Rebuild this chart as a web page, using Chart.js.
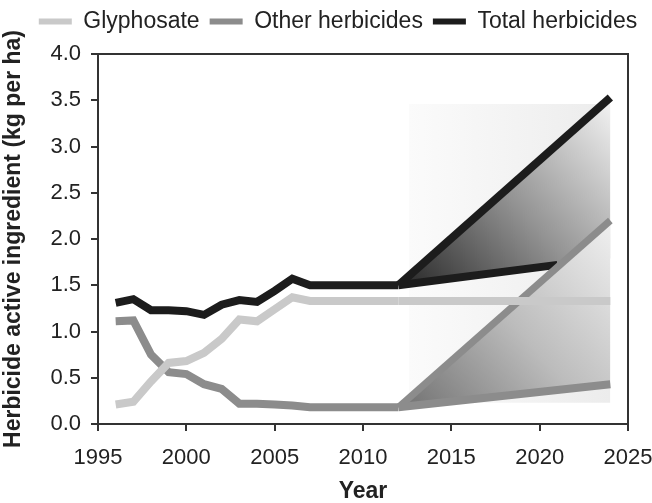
<!DOCTYPE html>
<html>
<head>
<meta charset="utf-8">
<script src="https://cdn.jsdelivr.net/npm/chart.js@4.4.1/dist/chart.umd.min.js"></script>
<style>
  html, body { margin: 0; padding: 0; background: #fff; }
  #wrap { width: 652px; height: 503px; }
</style>
</head>
<body>
<div id="wrap"><canvas id="chart"></canvas></div>
<script>
/* Herbicide use per hectare, measured 1996-2012 and projected to 2024 */

const histYears = [1996, 1997, 1998, 1999, 2000, 2001, 2002, 2003, 2004, 2005, 2006, 2007, 2008, 2009, 2010, 2011, 2012];
const glyphosate = [0.21, 0.24, 0.46, 0.66, 0.68, 0.77, 0.92, 1.13, 1.11, 1.24, 1.37, 1.33, 1.33, 1.33, 1.33, 1.33, 1.33];
const otherHerbicides = [1.11, 1.12, 0.75, 0.56, 0.54, 0.43, 0.38, 0.22, 0.22, 0.21, 0.20, 0.18, 0.18, 0.18, 0.18, 0.18, 0.18];
const totalHerbicides = [1.31, 1.35, 1.23, 1.23, 1.22, 1.18, 1.29, 1.34, 1.32, 1.44, 1.57, 1.50, 1.50, 1.50, 1.50, 1.50, 1.50];

// projections
const projYears = [2012, 2024];
const glyphosateProj = [1.33, 1.33];
const otherHigh = [0.18, 2.20];
const otherLow = [0.18, 0.43];
const totalHigh = [1.50, 3.53];
// low total scenario: visible until it runs under the other-herbicides fan
const totalLowYears = [2012, 2021];
const totalLow = [1.50, 1.72];
// where that lower edge sits once hidden (bottom of the total fan)
const totalLowEdge = [1.50, 1.79];

// faint backdrop behind the projections
const shadeYears = [2012.6, 2024];
const shadeTop = [3.46, 3.46];
const shadeBottom = [0.23, 0.23];

const xTicks = [1995, 2000, 2005, 2010, 2015, 2020, 2025];
const yTicks = [0, 0.5, 1.0, 1.5, 2.0, 2.5, 3.0, 3.5, 4.0];

const COLORS = {
    glyphosate: '#c9c9c9',
    other: '#8c8c8c',
    total: '#1c1c1c',
    axis: '#333333',
    text: '#222222',
};

const LEGEND_SHIFT = 24;

Chart.defaults.font.family = "'Liberation Sans', Arial, Helvetica, sans-serif";
Chart.defaults.color = COLORS.text;

const pts = (xs, ys) => xs.map((x, i) => ({ x, y: ys[i] }));

function line(label, data, color, width, order) {
    return {
        label,
        data,
        borderColor: color,
        backgroundColor: color,
        borderWidth: width,
        pointRadius: 0,
        pointHoverRadius: 0,
        fill: false,
        tension: 0,
        order,
        borderCapStyle: 'butt',
        borderJoinStyle: 'miter',
    };
}

// diagonal gradient over a projection fan, dark where it starts and pale at its far end
function fanGradient(xs, lo, hi, stops) {
    return (ctx) => {
        const { chart } = ctx;
        const { chartArea, scales } = chart;
        if (!chartArea) return null;
        const x0 = scales.x.getPixelForValue(xs[0]);
        const y0 = scales.y.getPixelForValue(lo[0]);
        const x1 = scales.x.getPixelForValue(xs[xs.length - 1]);
        const y1 = scales.y.getPixelForValue(hi[hi.length - 1]);
        const g = chart.ctx.createLinearGradient(x0, y0, x1, y1);
        stops.forEach(([t, c]) => g.addColorStop(t, c));
        return g;
    };
}

function shadeGradient(ctx) {
    const { chart } = ctx;
    const { chartArea, scales } = chart;
    if (!chartArea) return null;
    const x0 = scales.x.getPixelForValue(shadeYears[0]);
    const x1 = scales.x.getPixelForValue(shadeYears[shadeYears.length - 1]);
    const g = chart.ctx.createLinearGradient(x0, 0, x1, 0);
    g.addColorStop(0, '#fbfbfb');
    g.addColorStop(1, '#ececec');
    return g;
}

function band(data, target, bg, order) {
    return {
        label: '',
        data,
        borderWidth: 0,
        borderColor: 'rgba(0,0,0,0)',
        backgroundColor: bg,
        pointRadius: 0,
        pointHoverRadius: 0,
        fill: target === null ? false : { target },
        tension: 0,
        order,
    };
}

const datasets = [
    line('Glyphosate', pts(histYears, glyphosate), COLORS.glyphosate, 8, 1),            // 0
    line('', pts(projYears, glyphosateProj), COLORS.glyphosate, 8, 1),                  // 1
    line('Other herbicides', pts(histYears, otherHerbicides), COLORS.other, 8, 2),      // 2
    line('', pts(projYears, otherHigh), COLORS.other, 7, 2),                            // 3
    line('', pts(projYears, otherLow), COLORS.other, 8, 2),                             // 4
    band(pts(projYears, otherHigh), 6,
        fanGradient(projYears, otherLow, otherHigh, [[0, '#707070'], [0.5, '#bcbcbc'], [1, '#f0f0f0']]), 3), // 5
    band(pts(projYears, otherLow), null, 'rgba(0,0,0,0)', 3),                           // 6
    line('Total herbicides', pts(histYears, totalHerbicides), COLORS.total, 8, 4),      // 7
    line('', pts(projYears, totalHigh), COLORS.total, 8, 4),                            // 8
    line('', pts(totalLowYears, totalLow), COLORS.total, 8, 4),                         // 9
    band(pts(projYears, totalHigh), 11,
        fanGradient(projYears, totalLowEdge, totalHigh, [[0, '#262626'], [0.5, '#939393'], [1, '#f4f4f4']]), 5), // 10
    band(pts(projYears, totalLowEdge), null, 'rgba(0,0,0,0)', 5),                       // 11
    band(pts(shadeYears, shadeTop), 13, shadeGradient, 6),                              // 12
    band(pts(shadeYears, shadeBottom), null, 'rgba(0,0,0,0)', 6),                       // 13
];

// closed box round the plot
const frame = {
    id: 'frame',
    afterDraw(chart) {
        const { ctx, chartArea: a } = chart;
        ctx.save();
        ctx.strokeStyle = COLORS.axis;
        ctx.lineWidth = 2;
        ctx.strokeRect(a.left, a.top, a.right - a.left, a.bottom - a.top);
        ctx.restore();
    },
};

// the legend row sits a little right of centre in the original
const legendNudge = {
    id: 'legendNudge',
    afterLayout(chart) {
        if (!chart.legend) return;
        chart.legend.left += LEGEND_SHIFT;
        chart.legend.right += LEGEND_SHIFT;
    },
};

new Chart(document.getElementById('chart'), {
    type: 'line',
    data: { datasets },
    plugins: [frame, legendNudge],
    options: {
        responsive: true,
        maintainAspectRatio: false,
        animation: false,
        events: [],
        layout: { padding: { top: 0, right: 24, bottom: 0, left: 0 } },
        plugins: {
            tooltip: { enabled: false },
            // empty subtitle used as a spacer between legend and plot
            subtitle: { display: true, text: '', weight: 500, padding: 0, font: { size: 11, lineHeight: 1 } },
            legend: {
                position: 'top',
                labels: {
                    boxWidth: 33,
                    boxHeight: 6,
                    padding: 10,
                    color: COLORS.text,
                    font: { size: 23 },
                    generateLabels(chart) {
                        return Chart.defaults.plugins.legend.labels.generateLabels(chart)
                            .filter(item => item.text)
                            .map(item => ({ ...item, lineWidth: 0, fillStyle: item.strokeStyle }));
                    },
                },
            },
        },
        scales: {
            x: {
                type: 'linear',
                min: xTicks[0],
                max: xTicks[xTicks.length - 1],
                afterBuildTicks: s => { s.ticks = xTicks.map(value => ({ value })); },
                afterFit: s => { s.height = 79; s.paddingLeft = 0; s.paddingRight = 24; },
                grid: { drawOnChartArea: false, tickLength: 7, color: COLORS.axis, lineWidth: 2 },
                border: { display: false },
                ticks: { color: COLORS.text, font: { size: 22 }, padding: 14, maxRotation: 0, callback: v => String(v) },
                title: { display: true, text: 'Year', color: COLORS.text, font: { size: 23, weight: 'bold', lineHeight: 1 }, padding: { top: 4, bottom: 0 } },
            },
            y: {
                type: 'linear',
                min: yTicks[0],
                max: yTicks[yTicks.length - 1],
                afterBuildTicks: s => { s.ticks = yTicks.map(value => ({ value })); },
                afterFit: s => { s.width = 98; },
                grid: { drawOnChartArea: false, tickLength: 7, color: COLORS.axis, lineWidth: 2 },
                border: { display: false },
                ticks: { color: COLORS.text, font: { size: 22 }, padding: 10, callback: v => v.toFixed(1) },
                title: { display: true, text: 'Herbicide active ingredient (kg per ha)', color: COLORS.text, font: { size: 23, weight: 'bold', lineHeight: 1 }, padding: { top: 2, bottom: 0 } },
            },
        },
    },
});
</script>
</body>
</html>
